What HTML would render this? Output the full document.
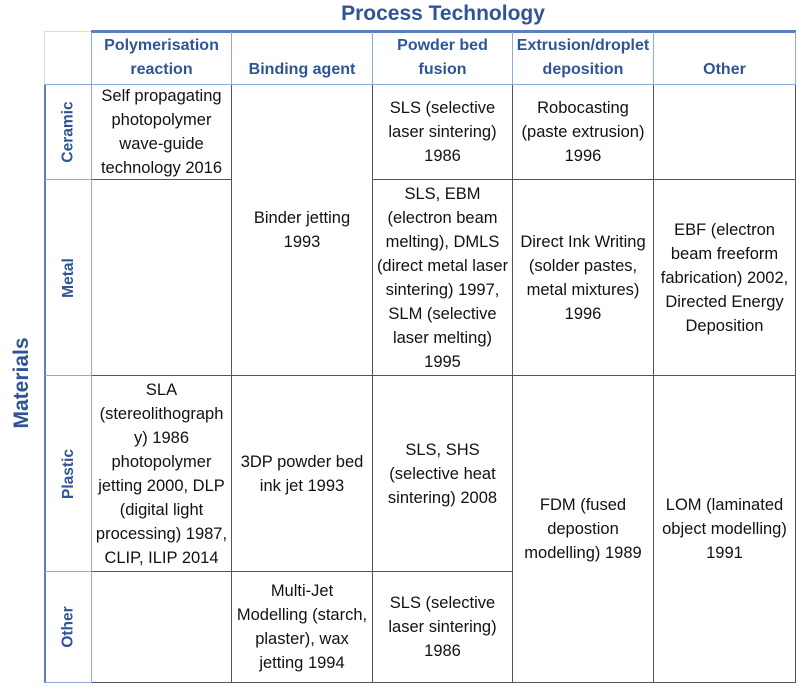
<!DOCTYPE html>
<html><head><meta charset="utf-8"><style>
body{margin:0;width:799px;height:686px;background:#fff;position:relative;overflow:hidden;font-family:"Liberation Sans",sans-serif;}
.c{position:absolute;box-sizing:border-box;display:flex;align-items:center;justify-content:center;text-align:center;font-size:16.5px;line-height:24px;color:#111;border-right:1px solid #555;border-bottom:1px solid #555;white-space:nowrap;}
.h{color:#2f5597;font-weight:bold;font-size:16px;border-right:1px solid #8eaadb;border-bottom:1px solid #8eaadb;align-items:flex-end;padding-bottom:2px;}
.r{color:#2f5597;font-weight:bold;font-size:15.5px;border-left:2px solid #5b7fc0;border-right:1px solid #8eaadb;border-bottom:1px solid #8eaadb;}
.r span{transform:rotate(-90deg);white-space:nowrap;}
</style></head><body>
<div style="position:absolute;left:0;width:886px;top:2px;text-align:center;font-size:21px;font-weight:bold;color:#2f5597;">Process Technology</div>
<div style="position:absolute;left:22px;top:383px;transform:translate(-50%,-50%) rotate(-90deg);font-size:21px;font-weight:bold;color:#2f5597;white-space:nowrap;">Materials</div>
<div style="position:absolute;left:44px;top:31px;width:48px;height:54px;border-top:1px solid #ddd;border-left:1px solid #ddd;border-bottom:1px solid #8eaadb;box-sizing:border-box"></div>
<div style="position:absolute;left:91px;top:30px;width:705px;height:3px;background:#5b7fc0"></div>
<div class="c h" style="left:91px;top:32px;width:141px;height:53px;border-left:1px solid #8eaadb">Polymerisation<br>reaction</div>
<div class="c h" style="left:232px;top:32px;width:141px;height:53px">Binding agent</div>
<div class="c h" style="left:373px;top:32px;width:140px;height:53px">Powder bed<br>fusion</div>
<div class="c h" style="left:513px;top:32px;width:141px;height:53px">Extrusion/droplet<br>deposition</div>
<div class="c h" style="left:654px;top:32px;width:142px;height:53px">Other</div>

<div class="c r" style="left:44px;top:85px;width:48px;height:95px"><span>Ceramic</span></div>
<div class="c r" style="left:44px;top:180px;width:48px;height:196px"><span>Metal</span></div>
<div class="c r" style="left:44px;top:376px;width:48px;height:196px"><span>Plastic</span></div>
<div class="c r" style="left:44px;top:572px;width:48px;height:111px"><span>Other</span></div>

<div class="c" style="left:92px;top:85px;width:140px;height:95px">Self propagating<br>photopolymer<br>wave-guide<br>technology 2016</div>
<div class="c" style="left:232px;top:85px;width:141px;height:291px">Binder jetting<br>1993</div>
<div class="c" style="left:373px;top:85px;width:140px;height:95px">SLS (selective<br>laser sintering)<br>1986</div>
<div class="c" style="left:513px;top:85px;width:141px;height:95px">Robocasting<br>(paste extrusion)<br>1996</div>
<div class="c" style="left:654px;top:85px;width:142px;height:95px"></div>

<div class="c" style="left:92px;top:180px;width:140px;height:196px"></div>
<div class="c" style="left:373px;top:180px;width:140px;height:196px">SLS, EBM<br>(electron beam<br>melting), DMLS<br>(direct metal laser<br>sintering) 1997,<br>SLM (selective<br>laser melting)<br>1995</div>
<div class="c" style="left:513px;top:180px;width:141px;height:196px">Direct Ink Writing<br>(solder pastes,<br>metal mixtures)<br>1996</div>
<div class="c" style="left:654px;top:180px;width:142px;height:196px">EBF (electron<br>beam freeform<br>fabrication) 2002,<br>Directed Energy<br>Deposition</div>

<div class="c" style="left:92px;top:376px;width:140px;height:196px">SLA<br>(stereolithograph<br>y) 1986<br>photopolymer<br>jetting 2000, DLP<br>(digital light<br>processing) 1987,<br>CLIP, ILIP 2014</div>
<div class="c" style="left:232px;top:376px;width:141px;height:196px">3DP powder bed<br>ink jet 1993</div>
<div class="c" style="left:373px;top:376px;width:140px;height:196px">SLS, SHS<br>(selective heat<br>sintering) 2008</div>
<div class="c" style="left:513px;top:376px;width:141px;height:307px">FDM (fused<br>depostion<br>modelling) 1989</div>
<div class="c" style="left:654px;top:376px;width:142px;height:307px">LOM (laminated<br>object modelling)<br>1991</div>

<div class="c" style="left:92px;top:572px;width:140px;height:111px"></div>
<div class="c" style="left:232px;top:572px;width:141px;height:111px">Multi-Jet<br>Modelling (starch,<br>plaster), wax<br>jetting 1994</div>
<div class="c" style="left:373px;top:572px;width:140px;height:111px">SLS (selective<br>laser sintering)<br>1986</div>
</body></html>
